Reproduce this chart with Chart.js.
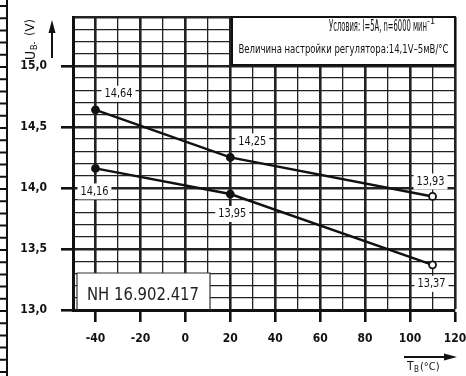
<!DOCTYPE html>
<html>
<head>
<meta charset="utf-8">
<script src="https://cdn.jsdelivr.net/npm/chart.js"></script>
<style>
  html, body { margin: 0; padding: 0; background: #fff; }
  #wrap { width: 466px; height: 376px; }
</style>
</head>
<body>
<div id="wrap"><canvas id="chart" width="466" height="376"></canvas></div>
<script>
// regulator voltage vs. temperature
const temps = [-40, 20, 110];
const upperVolts = [14.64, 14.25, 13.93];
const lowerVolts = [14.16, 13.95, 13.37];
const xTicks = [-40, -20, 0, 20, 40, 60, 80, 100, 120];
const yTicks = [13.0, 13.5, 14.0, 14.5, 15.0];
const conditionLines = ["Условия: I=5A, n=6000 мин", "Величина настройки регулятора:14,1V–5мВ/°С"];
const partNumber = "NH 16.902.417";

// where each value label sits relative to its point
const upperLabelOffsets = [[23, -16], [22, -16], [-2, -15]];
const lowerLabelOffsets = [[-1, 23], [2, 20], [-1, 19]];

const FONT = '"DejaVu Sans Condensed", "Liberation Sans Narrow", "DejaVu Sans", sans-serif';
const INK = '#111';

const fmt = v => v.toFixed(2).replace('.', ',');
const isXMajor = v => v % 20 === 0;
const isYMajor = v => Math.round(v * 10) % 5 === 0;

function toPoints(ys) {
  return temps.map((t, i) => ({ x: t, y: ys[i] }));
}

const pointFill = ctx => ctx.dataIndex === temps.length - 1 ? '#fff' : INK;

function fitText(ctx, text, cx, cy, width) {
  const w = ctx.measureText(text).width;
  const s = Math.min(1, width / w);
  ctx.save();
  ctx.translate(cx, cy);
  ctx.scale(s, 1);
  ctx.fillText(text, 0, 0);
  ctx.restore();
  return w * s;
}

const decorations = {
  id: 'decorations',
  beforeDraw(chart) {
    const c = chart.ctx;
    c.save();
    c.fillStyle = '#fff';
    c.fillRect(0, 0, chart.width, chart.height);
    // edge of neighbouring sheet
    c.strokeStyle = INK;
    c.lineWidth = 2;
    c.beginPath();
    c.moveTo(7, 0); c.lineTo(7, chart.height);
    for (let y = 6; y < chart.height; y += 12.2) {
      c.moveTo(0, y); c.lineTo(7, y);
    }
    c.stroke();
    c.restore();
  },
  beforeDatasetsDraw(chart) {
    const c = chart.ctx;
    const a = chart.chartArea;
    c.save();
    // conditions box
    c.fillStyle = '#fff';
    c.fillRect(232, a.top, a.right - 232, 48);
    c.strokeStyle = INK;
    c.lineWidth = 2;
    c.strokeRect(232, a.top, a.right - 232, 48);
    c.fillStyle = INK;
    c.textAlign = 'center';
    c.textBaseline = 'middle';
    c.font = '15px ' + FONT;
    const w1 = fitText(c, conditionLines[0], 378, a.top + 10, 98);
    c.font = '9px ' + FONT;
    c.fillText('-1', 378 + w1 / 2 + 4, a.top + 5);
    c.font = '12px ' + FONT;
    fitText(c, conditionLines[1], (232 + a.right) / 2, a.top + 33, 210);

    // drawing number box
    c.fillStyle = '#fff';
    c.fillRect(77, 273, 133, a.bottom - 273 - 1);
    c.strokeStyle = '#333';
    c.lineWidth = 1.2;
    c.beginPath();
    c.moveTo(77, a.bottom); c.lineTo(77, 273); c.lineTo(210, 273); c.lineTo(210, a.bottom);
    c.stroke();
    c.fillStyle = '#222';
    c.font = '17px ' + FONT;
    fitText(c, partNumber, 143, 296, 112);

    // axis titles and arrows
    c.fillStyle = INK;
    c.strokeStyle = INK;
    c.save();
    c.translate(31, 60);
    c.rotate(-Math.PI / 2);
    c.textAlign = 'left';
    c.textBaseline = 'middle';
    c.font = '14px ' + FONT;
    c.fillText('U', 0, 0);
    c.font = '9px ' + FONT;
    c.fillText('B-', 10, 4);
    c.font = '13px ' + FONT;
    c.fillText('(V)', 24, 0);
    c.restore();

    c.lineWidth = 2;
    c.beginPath();
    c.moveTo(52, 58); c.lineTo(52, 24);
    c.stroke();
    c.beginPath();
    c.moveTo(52, 20); c.lineTo(48.5, 33); c.lineTo(55.5, 33); c.closePath();
    c.fill();

    c.beginPath();
    c.moveTo(404, 357); c.lineTo(452, 357);
    c.stroke();
    c.beginPath();
    c.moveTo(457, 357); c.lineTo(444, 353.5); c.lineTo(444, 360.5); c.closePath();
    c.fill();
    c.textAlign = 'left';
    c.textBaseline = 'middle';
    c.font = '12px ' + FONT;
    c.fillText('T', 407, 367);
    c.font = '8px ' + FONT;
    c.fillText('B', 414, 370);
    c.font = '11px ' + FONT;
    c.fillText('(°C)', 420, 367);
    c.restore();
  },
  afterDatasetsDraw(chart) {
    const c = chart.ctx;
    const offsets = [upperLabelOffsets, lowerLabelOffsets];
    c.save();
    c.font = '12px ' + FONT;
    c.textAlign = 'center';
    c.textBaseline = 'middle';
    chart.data.datasets.forEach((ds, di) => {
      chart.getDatasetMeta(di).data.forEach((pt, i) => {
        const text = fmt(ds.data[i].y);
        const [dx, dy] = offsets[di][i];
        c.fillStyle = '#fff';
        c.fillRect(pt.x + dx - 17, pt.y + dy - 8, 34, 16);
        c.fillStyle = INK;
        fitText(c, text, pt.x + dx, pt.y + dy, 28);
      });
    });
    c.restore();
  }
};

const ctx = document.getElementById('chart').getContext('2d');
new Chart(ctx, {
  type: 'line',
  data: {
    datasets: [
      { data: toPoints(upperVolts) },
      { data: toPoints(lowerVolts) }
    ]
  },
  options: {
    responsive: false,
    animation: false,
    layout: { padding: { top: 17, right: 11, left: 0, bottom: 0 } },
    elements: {
      line: { borderColor: INK, borderWidth: 2.4, tension: 0 },
      point: {
        radius: 3.5,
        borderWidth: 1.8,
        borderColor: INK,
        backgroundColor: pointFill
      }
    },
    plugins: {
      legend: { display: false },
      tooltip: { enabled: false }
    },
    scales: {
      x: {
        type: 'linear',
        min: -50,
        max: 120,
        afterFit: s => {
          s.height = 66;
          s.paddingLeft = 0;
          s.paddingRight = 0;
        },
        ticks: {
          stepSize: 10,
          autoSkip: false,
          maxRotation: 0,
          padding: 10,
          color: INK,
          font: { family: FONT, size: 12, weight: 'bold' },
          callback: v => xTicks.includes(v) ? String(v) : ''
        },
        grid: {
          color: '#222',
          lineWidth: c => isXMajor(c.tick.value) ? 2.6 : 1.3,
          tickLength: 12,
          tickWidth: 2.6,
          tickColor: c => isXMajor(c.tick.value) ? INK : 'rgba(0,0,0,0)'
        },
        border: { color: INK, width: 3 }
      },
      y: {
        type: 'linear',
        min: 13.0,
        max: 15.4,
        afterFit: s => {
          s.width = 73;
          s.paddingTop = 0;
          s.paddingBottom = 0;
        },
        ticks: {
          stepSize: 0.1,
          autoSkip: false,
          padding: 14,
          color: INK,
          font: { family: FONT, size: 12, weight: 'bold' },
          callback: v => yTicks.some(t => Math.abs(t - v) < 1e-6) ? v.toFixed(1).replace('.', ',') : ''
        },
        grid: {
          color: '#222',
          lineWidth: c => (isYMajor(c.tick.value) || c.index === c.scale.ticks.length - 1) ? 2.6 : 1.3,
          tickLength: 12,
          tickWidth: 2.6,
          tickColor: c => isYMajor(c.tick.value) ? INK : 'rgba(0,0,0,0)'
        },
        border: { color: INK, width: 3 }
      }
    }
  },
  plugins: [decorations]
});
</script>
</body>
</html>
